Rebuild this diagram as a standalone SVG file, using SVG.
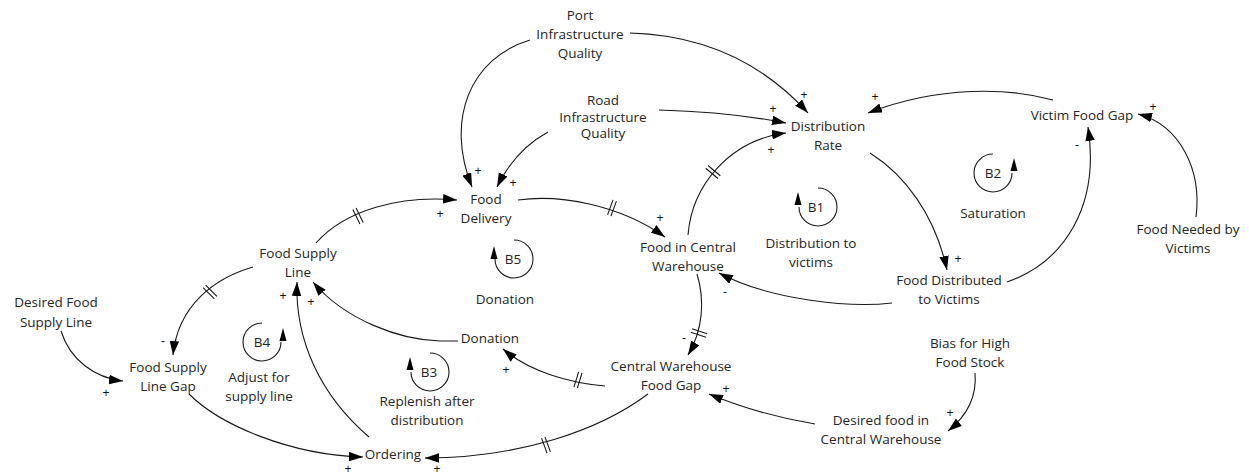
<svg xmlns="http://www.w3.org/2000/svg" xmlns:xlink="http://www.w3.org/1999/xlink" width="1249" height="475" viewBox="0 0 1249 475">
<style>
.t{font-family:"Open Sans","Liberation Sans",sans-serif;font-size:13.5px;fill:#262626;text-anchor:middle}
.p{font-family:"Liberation Sans","Open Sans",sans-serif;font-size:12px;fill:#111;text-anchor:middle}
.c{fill:none;stroke:#1a1a1a;stroke-width:1.1}
.lp{fill:none;stroke:#1a1a1a;stroke-width:1.1}
.ah{fill:#000;stroke:none}
</style>
<defs>
<marker id="arr" markerUnits="userSpaceOnUse" markerWidth="15" markerHeight="10" refX="14" refY="4.75" orient="auto">
<path d="M0,0 L14,4.75 L0,9.5 z" fill="#000"/>
</marker>
<g id="delay" stroke="#1a1a1a" stroke-width="1.1">
<line x1="-1.8" y1="-8" x2="-1.8" y2="8"/>
<line x1="1.8" y1="-8" x2="1.8" y2="8"/>
</g>
</defs>
<rect width="1249" height="475" fill="#fff"/>

<g id="connectors">
<path class="c" marker-end="url(#arr)" d="M630,33 C700,35 760,60 808,113"/>
<path class="c" marker-end="url(#arr)" d="M530,40 C470,58 445,120 472,187"/>
<path class="c" marker-end="url(#arr)" d="M659,110 Q730,112 786,123"/>
<path class="c" marker-end="url(#arr)" d="M548,132 Q515,150 497,187"/>
<path class="c" marker-end="url(#arr)" d="M688,235 C692,185 730,140 786,133"/>
<path class="c" marker-end="url(#arr)" d="M518,200 C560,194 620,205 665,237"/>
<path class="c" marker-end="url(#arr)" d="M870,153 C905,175 935,215 947,270"/>
<path class="c" marker-end="url(#arr)" d="M1053,100 C1010,88 940,85 868,113"/>
<path class="c" marker-end="url(#arr)" d="M1007,282 C1065,262 1100,205 1088,127"/>
<path class="c" marker-end="url(#arr)" d="M1196,217 C1202,170 1180,125 1138,114"/>
<path class="c" marker-end="url(#arr)" d="M892,303 C850,308 770,300 719,273"/>
<path class="c" marker-end="url(#arr)" d="M697,274 C705,300 703,330 688,355"/>
<path class="c" marker-end="url(#arr)" d="M815,424 Q760,415 709,394"/>
<path class="c" marker-end="url(#arr)" d="M975,373 C977,395 968,415 948,431"/>
<path class="c" marker-end="url(#arr)" d="M605,386 C570,383 530,372 503,349"/>
<path class="c" marker-end="url(#arr)" d="M648,394 C600,430 520,458 425,458"/>
<path class="c" marker-end="url(#arr)" d="M458,341 L440,341 C400,340 345,320 313,282"/>
<path class="c" marker-end="url(#arr)" d="M369,437 C320,395 295,340 297,282"/>
<path class="c" marker-end="url(#arr)" d="M316,243 C345,210 400,195 457,200"/>
<path class="c" marker-end="url(#arr)" d="M253,267 C215,278 178,305 173,355"/>
<path class="c" marker-end="url(#arr)" d="M61,331 C70,360 95,378 123,381"/>
<path class="c" marker-end="url(#arr)" d="M189,394 C220,425 290,455 363,457"/>
<use xlink:href="#delay" href="#delay" transform="translate(713,172) rotate(-50)"/>
<use xlink:href="#delay" href="#delay" transform="translate(612,208) rotate(20)"/>
<use xlink:href="#delay" href="#delay" transform="translate(699,333) rotate(108)"/>
<use xlink:href="#delay" href="#delay" transform="translate(578,380) rotate(-163)"/>
<use xlink:href="#delay" href="#delay" transform="translate(546,445) rotate(160)"/>
<use xlink:href="#delay" href="#delay" transform="translate(358,216) rotate(-26)"/>
<use xlink:href="#delay" href="#delay" transform="translate(210,292) rotate(135)"/>
<text class="p" x="804" y="98.5">+</text>
<text class="p" x="478" y="174.5">+</text>
<text class="p" x="773" y="112.5">+</text>
<text class="p" x="513" y="186.5">+</text>
<text class="p" x="771" y="153.5">+</text>
<text class="p" x="660" y="221.5">+</text>
<text class="p" x="958" y="262.5">+</text>
<text class="p" x="875" y="100.5">+</text>
<text class="p" x="1077" y="149">-</text>
<text class="p" x="1153" y="110.5">+</text>
<text class="p" x="725" y="296">-</text>
<text class="p" x="684" y="342">-</text>
<text class="p" x="726" y="392.5">+</text>
<text class="p" x="950" y="416.5">+</text>
<text class="p" x="506" y="373.5">+</text>
<text class="p" x="437" y="473">+</text>
<text class="p" x="283" y="299.5">+</text>
<text class="p" x="311" y="305.5">+</text>
<text class="p" x="440" y="217.5">+</text>
<text class="p" x="163" y="345">-</text>
<text class="p" x="106" y="396.5">+</text>
<text class="p" x="348" y="473">+</text>
</g>

<g id="port-infrastructure-quality"><text class="t" x="580" y="20">Port</text><text class="t" x="580" y="39">Infrastructure</text><text class="t" x="580" y="58">Quality</text></g>
<g id="road-infrastructure-quality"><text class="t" x="603" y="105">Road</text><text class="t" x="603" y="122">Infrastructure</text><text class="t" x="603" y="138">Quality</text></g>
<g id="distribution-rate"><text class="t" x="828" y="131">Distribution</text><text class="t" x="828" y="150">Rate</text></g>
<g id="victim-food-gap"><text class="t" x="1082" y="120">Victim Food Gap</text></g>
<g id="food-needed-by-victims"><text class="t" x="1188" y="234">Food Needed by</text><text class="t" x="1188" y="253">Victims</text></g>
<g id="food-distributed-to-victims"><text class="t" x="949" y="285">Food Distributed</text><text class="t" x="949" y="304">to Victims</text></g>
<g id="bias-for-high-food-stock"><text class="t" x="970" y="348">Bias for High</text><text class="t" x="970" y="367">Food Stock</text></g>
<g id="desired-food-in-central-warehouse"><text class="t" x="881" y="425">Desired food in</text><text class="t" x="881" y="444">Central Warehouse</text></g>
<g id="central-warehouse-food-gap"><text class="t" x="671" y="371">Central Warehouse</text><text class="t" x="671" y="390">Food Gap</text></g>
<g id="food-in-central-warehouse"><text class="t" x="688" y="252">Food in Central</text><text class="t" x="688" y="271">Warehouse</text></g>
<g id="food-delivery"><text class="t" x="486" y="204">Food</text><text class="t" x="486" y="223">Delivery</text></g>
<g id="donation"><text class="t" x="490" y="343">Donation</text></g>
<g id="ordering"><text class="t" x="393" y="459">Ordering</text></g>
<g id="food-supply-line"><text class="t" x="298" y="258">Food Supply</text><text class="t" x="298" y="277">Line</text></g>
<g id="desired-food-supply-line"><text class="t" x="56" y="307">Desired Food</text><text class="t" x="56" y="327">Supply Line</text></g>
<g id="food-supply-line-gap"><text class="t" x="168" y="372">Food Supply</text><text class="t" x="168" y="391">Line Gap</text></g>

<g id="loop-b1">
<path class="lp" d="M818,188 A19,19 0 1 1 799,207"/>
<path class="ah" d="M798,192 L801.5,205 L794.5,205 z"/>
<text class="t" x="816" y="212">B1</text>
<text class="t" x="811" y="248">Distribution to</text><text class="t" x="811" y="267">victims</text>
</g>
<g id="loop-b2">
<path class="lp" d="M993,154 A19,19 0 1 0 1012,173"/>
<path class="ah" d="M1014,158 L1017.5,171 L1010.5,171 z"/>
<text class="t" x="993" y="178">B2</text>
<text class="t" x="993" y="218">Saturation</text>
</g>
<g id="loop-b3">
<path class="lp" d="M430,353 A19,19 0 1 1 411,372"/>
<path class="ah" d="M410,357 L413.5,370 L406.5,370 z"/>
<text class="t" x="429" y="377">B3</text>
<text class="t" x="427" y="406">Replenish after</text><text class="t" x="427" y="425">distribution</text>
</g>
<g id="loop-b4">
<path class="lp" d="M262,323 A19,19 0 1 0 281,342"/>
<path class="ah" d="M283,328 L286.5,341 L279.5,341 z"/>
<text class="t" x="262" y="347">B4</text>
<text class="t" x="259" y="382">Adjust for</text><text class="t" x="259" y="401">supply line</text>
</g>
<g id="loop-b5">
<path class="lp" d="M514,240 A19,19 0 1 1 495,259"/>
<path class="ah" d="M494,246 L497.5,259 L490.5,259 z"/>
<text class="t" x="513" y="264">B5</text>
<text class="t" x="505" y="304">Donation</text>
</g>
</svg>
